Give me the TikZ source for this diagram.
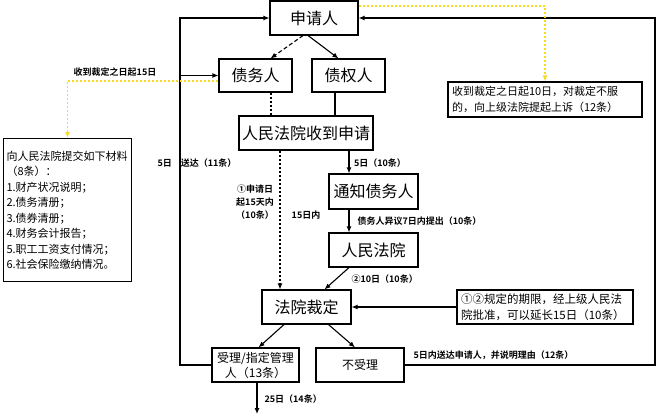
\documentclass[tikz,border=0pt]{standalone}
\usepackage{fontspec}
\setmainfont{Noto Sans CJK SC}[BoldFont={Noto Sans CJK SC Bold}]
\usepackage{xcolor}
\usetikzlibrary{arrows.meta,positioning,calc}
\definecolor{noteyellow}{RGB}{245,218,40}
\tikzset{
  arr/.style={-{Latex[length=6pt,width=5pt]}},
  box/.style={draw, line width=1.1pt, inner sep=0pt, align=center},
  bigbox/.style={box, minimum height=34pt, font=\fontsize{16}{18}\selectfont},
  smallbox/.style={box, minimum height=34pt, font=\fontsize{12}{15}\selectfont},
  notebox/.style={box, align=left, font=\fontsize{11}{15.5}\selectfont},
  lbl/.style={font=\fontsize{9}{13}\selectfont\bfseries, inner sep=1pt},
  dotline/.style={line width=1.1pt, dash pattern=on 2pt off 2pt},
  yline/.style={noteyellow, line width=1.3pt, dash pattern=on 2pt off 2pt}
}
\begin{document}
\begin{tikzpicture}[x=1pt, y=-1pt, line width=1.1pt]
    \useasboundingbox (0,0) rectangle (660,418);

    % main column
    \node[bigbox, minimum width=88pt] (applicant) at (314,18) {申请人};
    \node[bigbox, minimum width=73pt, minimum height=33pt] (debtor) at (255.5,75.5) {债务人};
    \node[bigbox, minimum width=73pt, minimum height=33pt] (creditor) at (348.5,75.5) {债权人};
    \node[bigbox, minimum width=134pt] (received) at (306,133) {人民法院收到申请};
    \node[bigbox, minimum width=89pt, minimum height=35pt] (notify) at (373.5,191.5) {通知债务人};
    \node[bigbox, minimum width=89pt] (court) at (373.5,250) {人民法院};
    \node[bigbox, minimum width=89pt] (ruling) at (306.5,307) {法院裁定};
    \node[smallbox, minimum width=87pt] (accept) at (255.5,365) {受理/指定管理\\人（13条）};
    \node[smallbox, minimum width=88pt] (reject) at (360,365) {不受理};

    % side notes
    \node[notebox, anchor=north west, text width=122pt, minimum height=143pt, inner xsep=3pt] (materials) at (3,138)
        {向人民法院提交如下材料\\（8条）：\\1.财产状况说明；\\2.债务清册；\\3.债券清册；\\4.财务会计报告；\\5.职工工资支付情况；\\6.社会保险缴纳情况。};
    \node[notebox, text width=186pt, minimum height=35pt, inner xsep=4pt] (appeal) at (545,99.5)
        {收到裁定之日起10日，对裁定不服\\的，向上级法院提起上诉（12条）};
    \node[notebox, text width=168pt, minimum height=34pt, inner xsep=4pt, font=\fontsize{11.5}{15.5}\selectfont] (extend) at (545,307)
        {①②规定的期限，经上级人民法\\院批准，可以延长15日（10条）};

    \coordinate (leftrail) at (180,0);
    \coordinate (rightrail) at (655,0);
    \coordinate (next) at (257,414);

    % arrows between boxes
    \draw[arr, dash pattern=on 4pt off 2.5pt] ([xshift=-11pt]applicant.south) -- ([xshift=15pt]debtor.north);
    \draw[arr] ([xshift=-6pt]applicant.south) -- ([xshift=-10pt]creditor.north);
    \draw[dotline] ([xshift=15.5pt]debtor.south) -- ([xshift=15.5pt]debtor.south |- received.north);
    \draw ([xshift=-13.5pt]creditor.south) -- ([xshift=-13.5pt]creditor.south |- received.north);
    \draw[arr] ([xshift=-24.5pt]notify.north |- received.south) -- ([xshift=-24.5pt]notify.north);
    \draw[arr] ([xshift=-24.5pt]notify.south) -- ([xshift=-24.5pt]court.north);
    \draw[arr] ([xshift=-24.5pt]court.south) -- ([xshift=18pt]ruling.north);
    \draw[arr, dotline] ([xshift=-26.5pt]ruling.north |- received.south) -- ([xshift=-26.5pt]ruling.north);
    \draw[arr] (extend.west) -- (ruling.east);
    \draw[arr] ([xshift=-22.5pt]ruling.south) -- ([xshift=3pt]accept.north);
    \draw[arr] ([xshift=22pt]ruling.south) -- ([xshift=-5pt]reject.north);
    \draw[arr] ([xshift=1.5pt]accept.south) -- (next);

    % loops back to applicant
    \draw[arr] (accept.west) -- (accept.west -| leftrail) -- (applicant.west -| leftrail) -- (applicant.west);
    \draw[arr] (debtor.west -| leftrail) -- (debtor.west);
    \draw[arr] (reject.east) -- (reject.east -| rightrail) -- (applicant.east -| rightrail) -- (applicant.east);

    % yellow notes
    \draw[arr, yline] ([yshift=-5.5pt]applicant.north east) -| (appeal.north);
    \draw[arr, yline] ([yshift=-5.5pt]debtor.west) -| (materials.north);

    % labels
    \node[lbl] (l1) at (380,163) {5日（10条）};
    \node[lbl, anchor=west] (l2) at (356,221) {债务人异议7日内提出（10条）};
    \node[lbl, anchor=west] (l3) at (350,279) {②10日（10条）};
    \node[lbl, align=center] (l4) at (255,202) {①申请日\\起15天内\\（10条）};
    \node[lbl] (l5) at (306,215) {15日内};
    \node[lbl] (l6) at (197,163) {5日\quad 送达（11条）};
    \node[lbl] (l7) at (115,72) {收到裁定之日起15日};
    \node[lbl, anchor=west] (l8) at (412,355) {5日内送达申请人，并说明理由（12条）};
    \node[lbl, anchor=west] (l9) at (263,399) {25日（14条）};
\end{tikzpicture}
\end{document}
